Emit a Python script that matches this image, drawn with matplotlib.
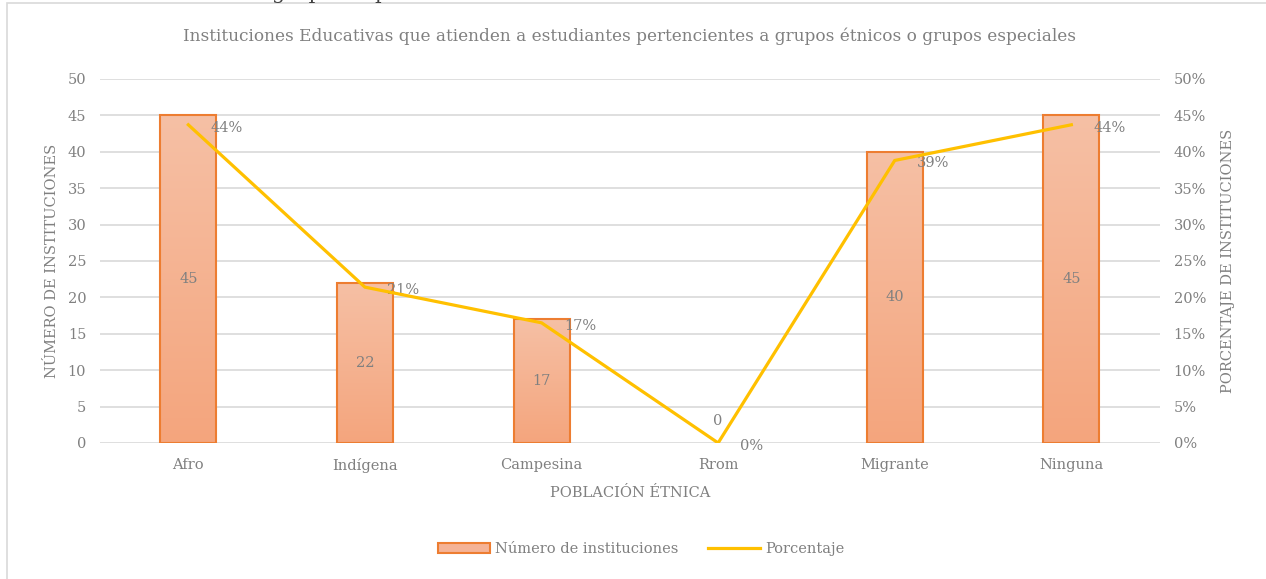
"""Instituciones por población étnica: barras + porcentaje."""

import numpy as np
import matplotlib
matplotlib.use('Agg')
import matplotlib.pyplot as plt
from matplotlib.colors import LinearSegmentedColormap
from matplotlib.patches import Rectangle
from matplotlib.ticker import PercentFormatter

categorias = ['Afro', 'Indígena', 'Campesina', 'Rrom', 'Migrante', 'Ninguna']
num_instituciones = [45, 22, 17, 0, 40, 45]
porcentaje = [0.437, 0.214, 0.165, 0.0, 0.388, 0.437]
pct_labels = ['44%', '21%', '17%', '0%', '39%', '44%']

titulo = ('Instituciones Educativas que atienden a estudiantes '
          'pertencientes a grupos étnicos o grupos especiales')

gris = '#808080'
naranja = '#ED7D31'
amarillo = '#FFC000'
plt.rcParams['font.family'] = ['DejaVu Serif']

fig = plt.figure(figsize=(12.66, 5.79), dpi=100)
ax = fig.add_axes([0.079, 0.235, 0.837, 0.6287])
ax2 = ax.twinx()

# marco del gráfico
fig.patches.append(Rectangle((7/1266, -0.01), 1.0, 1 - 3/579 + 0.01,
                             transform=fig.transFigure, fill=False,
                             edgecolor='#d9d9d9', lw=1.2))
# texto recortado arriba (viene del documento original)
fig.text(272/1266, 1 + 1/579, 'grupos especiales', fontsize=15,
         color='#404040', va='baseline')

x = np.arange(len(categorias))
ancho = 0.317
cmap = LinearSegmentedColormap.from_list('grad', ['#F4A57D', '#F6C0A5'])
grad = np.linspace(0, 1, 256).reshape(-1, 1)
bordes = [naranja if v > 0 else 'none' for v in num_instituciones]
barras = ax.bar(x, num_instituciones, width=ancho, facecolor='none',
                edgecolor=bordes, linewidth=1.5, zorder=3)
for b, v in zip(barras, num_instituciones):
    if v > 0:
        im = ax.imshow(grad, extent=[b.get_x(), b.get_x() + b.get_width(),
                                     0, v],
                       origin='lower', aspect='auto', cmap=cmap, zorder=2)
        im.set_clip_path(b)
        ax.text(b.get_x() + b.get_width()/2, v/2, str(v), ha='center',
                va='center', fontsize=10.5, color=gris, zorder=4)
    else:
        # etiqueta del valor cero, sobre la base
        ax.annotate(str(v), (b.get_x() + b.get_width()/2, 0),
                    xytext=(0, 11), textcoords='offset points',
                    ha='center', va='bottom', fontsize=10.5, color=gris)

ax.set_xlim(-0.5, len(categorias) - 0.5)
ax.set_ylim(0, 50)
ax.set_yticks(range(0, 51, 5))
ax.grid(axis='y', color='#d9d9d9', lw=1.2, zorder=0)
ax.set_axisbelow(True)
ax.set_xticks(x)
ax.set_xticklabels(categorias)

ax2.plot(x, porcentaje, color=amarillo, lw=2.3, zorder=5,
         solid_joinstyle='miter')
for xi, p, lab in zip(x, porcentaje, pct_labels):
    ax2.annotate(lab, (xi, p), xytext=(16, -2), textcoords='offset points',
                 ha='left', va='center', fontsize=10.5, color=gris)
ax2.set_ylim(0, 0.5)
ax2.set_yticks(np.arange(0, 0.51, 0.05))
ax2.yaxis.set_major_formatter(PercentFormatter(1.0, decimals=0))

for a in (ax, ax2):
    for s in a.spines.values():
        s.set_visible(False)
    a.tick_params(length=0, labelsize=10.5, colors=gris, pad=10)
ax.tick_params(axis='x', pad=11)

ax.set_ylabel('NÚMERO DE INSTITUCIONES', fontsize=10.5, color=gris,
              labelpad=6)
ax2.set_ylabel('PORCENTAJE DE INSTITUCIONES', fontsize=10.5, color=gris,
               labelpad=11)
ax.set_xlabel('POBLACIÓN ÉTNICA', fontsize=10.5, color=gris, labelpad=9)
ax.set_title(titulo, fontsize=12.2, color=gris, pad=27)

h1 = Rectangle((0, 0), 1, 1, facecolor='#F5B396', edgecolor=naranja, lw=1.5)
h2 = plt.Line2D([0], [0], color=amarillo, lw=2.3)
fig.legend([h1, h2], ['Número de instituciones', 'Porcentaje'],
           loc='center', bbox_to_anchor=(641/1266, 1 - 549/579), ncol=2,
           frameon=False, fontsize=10.5, labelcolor=gris, handlelength=3.6,
           handletextpad=0.35, columnspacing=2.0)

fig.savefig('out.png', dpi=100)
